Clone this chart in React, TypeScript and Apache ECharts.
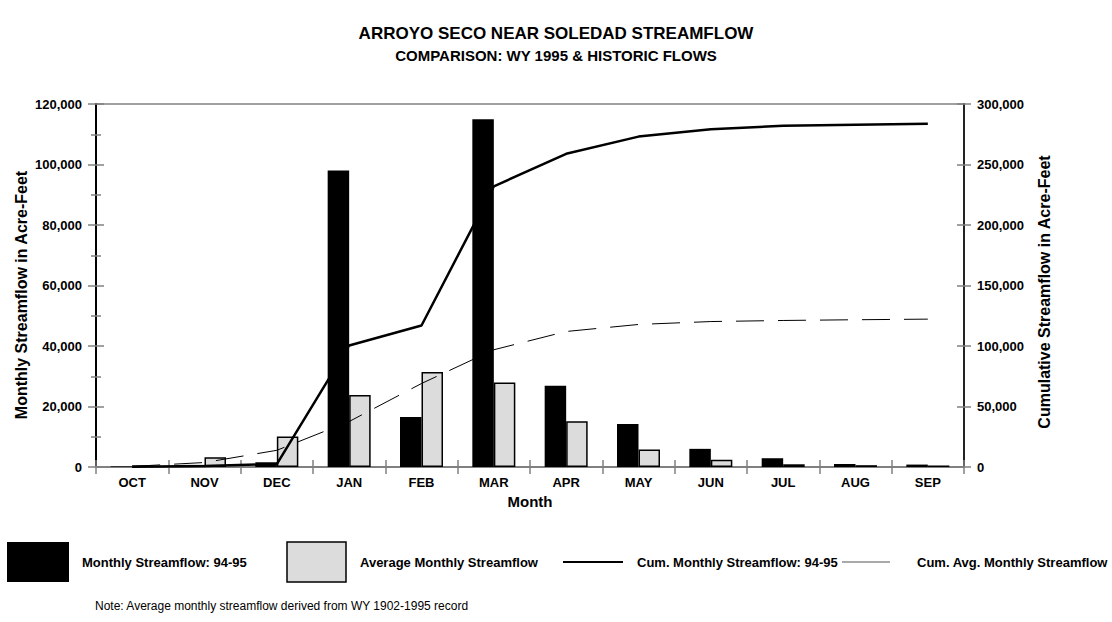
import React, { useEffect, useRef } from 'react';
import * as echarts from 'echarts';

const months = ['OCT', 'NOV', 'DEC', 'JAN', 'FEB', 'MAR', 'APR', 'MAY', 'JUN', 'JUL', 'AUG', 'SEP'];
const monthly9495 = [200, 700, 1550, 98000, 16500, 115000, 26900, 14200, 6000, 2900, 1000, 800];
const avgMonthly = [500, 3200, 10100, 23800, 31400, 27900, 15100, 5800, 2400, 900, 600, 500];
const cum9495 = [200, 900, 2450, 100450, 116950, 231950, 258850, 273050, 279050, 281950, 282950, 283750];
const cumAvg = [500, 3700, 13800, 37600, 69000, 96900, 112000, 117800, 120200, 121100, 121700, 122200];

const F = '"Liberation Sans", Arial, Helvetica, sans-serif';
const GRAY = '#808080';

export default function App() {
  const ref = useRef<HTMLDivElement>(null);
  useEffect(() => {
    const chart = echarts.init(ref.current!, null, { renderer: 'svg' });
    const fmt = (v: number) => v.toLocaleString('en-US');
    const tickLine = { color: GRAY, width: 1.5 };
    const bold = (size: number) => ({ fontSize: size, fontWeight: 'bold', color: '#000', fontFamily: F });
    const legendY = 562;
    const option: any = {
      animation: false,
      textStyle: { fontFamily: F },
      title: [
        { text: 'ARROYO SECO NEAR SOLEDAD STREAMFLOW', left: 'center', top: 25, padding: 0, textStyle: bold(17) },
        { text: 'COMPARISON: WY 1995 & HISTORIC FLOWS', left: 'center', top: 48, padding: 0, textStyle: bold(15) },
      ],
      grid: { left: 96, right: 148, top: 104, bottom: 155, show: true, borderColor: GRAY, borderWidth: 1.5, backgroundColor: 'transparent' },
      xAxis: [
        {
          type: 'category', data: months, position: 'bottom',
          axisLine: { show: true, lineStyle: { color: GRAY, width: 2 } },
          axisTick: { show: true, length: 7, lineStyle: tickLine },
          axisLabel: { ...bold(13), margin: 9 },
          name: 'Month', nameLocation: 'middle', nameGap: 26, nameTextStyle: bold(15),
          splitLine: { show: false },
        },
        {
          type: 'category', data: months, position: 'bottom',
          axisLine: { show: false },
          axisTick: { show: true, inside: true, length: 7, lineStyle: tickLine },
          axisLabel: { show: false }, splitLine: { show: false },
        },
      ],
      yAxis: [
        {
          type: 'value', position: 'left', min: 0, max: 120000, interval: 20000,
          axisLine: { show: true, lineStyle: { color: '#000', width: 2 } },
          axisTick: { show: true, length: 8, lineStyle: tickLine },
          minorTick: { show: true, splitNumber: 2, length: 5, lineStyle: tickLine },
          splitLine: { show: false },
          axisLabel: { ...bold(13), margin: 14, formatter: fmt },
        },
        {
          type: 'value', position: 'left', min: 0, max: 120000, interval: 20000,
          axisLine: { show: false },
          axisTick: { show: true, inside: true, length: 8, lineStyle: tickLine },
          minorTick: { show: true, splitNumber: 2, length: 5, lineStyle: tickLine },
          splitLine: { show: false }, axisLabel: { show: false },
        },
        {
          type: 'value', position: 'right', min: 0, max: 300000, interval: 50000,
          axisLine: { show: true, lineStyle: { color: '#222', width: 2 } },
          axisTick: { show: true, length: 7, lineStyle: tickLine },
          splitLine: { show: false },
          axisLabel: { ...bold(13), margin: 13, formatter: fmt },
        },
        {
          type: 'value', position: 'right', min: 0, max: 300000, interval: 50000,
          axisLine: { show: false },
          axisTick: { show: true, inside: true, length: 7, lineStyle: tickLine },
          splitLine: { show: false }, axisLabel: { show: false },
        },
      ],
      series: [
        {
          name: 'Monthly Streamflow: 94-95', type: 'bar', xAxisIndex: 0, yAxisIndex: 0,
          data: monthly9495, barWidth: 21.5, barGap: '0%', z: 4,
          itemStyle: { color: '#000' },
        },
        {
          name: 'Average Monthly Streamflow', type: 'bar', xAxisIndex: 0, yAxisIndex: 0,
          data: avgMonthly, barWidth: 21.5, barGap: '0%', z: 2,
          itemStyle: { color: '#DCDCDC', borderColor: '#000', borderWidth: 1.5 },
        },
        {
          name: 'Cum. Monthly Streamflow: 94-95', type: 'line', xAxisIndex: 0, yAxisIndex: 2,
          data: cum9495, symbol: 'none', z: 3,
          lineStyle: { color: '#000', width: 2.5 },
        },
        {
          name: 'Cum. Avg. Monthly Streamflow', type: 'line', xAxisIndex: 0, yAxisIndex: 2,
          data: cumAvg, symbol: 'none', z: 3,
          lineStyle: { color: '#000', width: 1, type: [28, 14] },
        },
      ],
      graphic: [
        { type: 'text', x: 21, y: 295, rotation: Math.PI / 2, style: { text: 'Monthly Streamflow in Acre-Feet', fill: '#000', align: 'center', verticalAlign: 'middle', font: `bold 16px ${F}` } },
        { type: 'text', x: 1044, y: 292, rotation: Math.PI / 2, style: { text: 'Cumulative Streamflow in Acre-Feet', fill: '#000', align: 'center', verticalAlign: 'middle', font: `bold 16px ${F}` } },
        { type: 'rect', shape: { x: 7, y: legendY - 20, width: 62, height: 40 }, style: { fill: '#000' } },
        { type: 'text', x: 82, y: legendY, style: { text: 'Monthly Streamflow: 94-95', fill: '#000', verticalAlign: 'middle', font: `bold 13px ${F}` } },
        { type: 'rect', shape: { x: 287, y: legendY - 20, width: 59, height: 40 }, style: { fill: '#DCDCDC', stroke: '#000', lineWidth: 1.5 } },
        { type: 'text', x: 360, y: legendY, style: { text: 'Average Monthly Streamflow', fill: '#000', verticalAlign: 'middle', font: `bold 13px ${F}` } },
        { type: 'line', shape: { x1: 563, y1: legendY, x2: 623, y2: legendY }, style: { stroke: '#000', lineWidth: 2 } },
        { type: 'text', x: 637, y: legendY, style: { text: 'Cum. Monthly Streamflow: 94-95', fill: '#000', verticalAlign: 'middle', font: `bold 13px ${F}` } },
        { type: 'line', shape: { x1: 842, y1: legendY, x2: 890, y2: legendY }, style: { stroke: '#555', lineWidth: 1 } },
        { type: 'text', x: 917, y: legendY, style: { text: 'Cum. Avg. Monthly Streamflow', fill: '#000', verticalAlign: 'middle', font: `bold 13px ${F}` } },
        { type: 'text', x: 95, y: 606, style: { text: 'Note: Average monthly streamflow derived from WY 1902-1995 record', fill: '#000', verticalAlign: 'middle', font: `12px ${F}` } },
      ],
    };
    chart.setOption(option);
    return () => chart.dispose();
  }, []);
  return <div ref={ref} style={{ position: 'fixed', left: 0, top: 0, width: 1112, height: 622, background: '#fff' }} />;
}
